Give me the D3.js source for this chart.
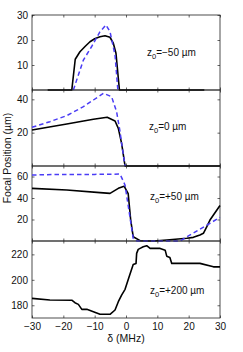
<!DOCTYPE html>
<html><head><meta charset="utf-8">
<script src="https://cdn.jsdelivr.net/npm/d3@7"></script>
<style>
html,body{margin:0;padding:0;background:#fff;}
svg{display:block;font-family:"Liberation Sans",Arial,Helvetica,sans-serif;}
</style></head><body>
<svg id="chart" width="243" height="352"></svg>
<script>
// x values (δ, MHz) and focal positions (µm)
const xTicks = [-30, -20, -10, 0, 10, 20, 30];

// Panel 1: z0 = -50 µm
const p1BlackX = [-25, -17.3, -16.2, -14.7, -13, -11.5, -10, -8.3, -6.7, -5.1, -4.05, -3.2, -2.1, 25];
const p1BlackY = [0, 0, 12.3, 15.3, 17.5, 19.3, 20.5, 21.3, 21.7, 21.1, 18.7, 14.7, 0, 0];
const p1BlueX = [-16.8, -13.6, -11, -8.3, -6.4, -5.1, -3.5, -2.6];
const p1BlueY = [0, 12, 17.3, 23.3, 26, 23.3, 14, 0];

// Panel 2: z0 = 0 µm
const p2BlackX = [-30, -24, -18.9, -14, -10.4, -6, -3.5, -2.45, -1.4, -0.3, 30];
const p2BlackY = [21.6, 23.5, 25.2, 26.8, 28, 29.2, 27, 22.6, 13.6, 0, 0];
const p2BlueX = [-30, -24.3, -18.9, -13.6, -10.4, -7.2, -4.6, -3, -1.9, -1.4, -0.3];
const p2BlueY = [23.2, 26.6, 30.2, 35.6, 39.6, 43.6, 41.6, 32.6, 20.6, 13.6, 0];

// Panel 3: z0 = +50 µm
const p3BlackX = [-30, -18.9, -8.3, -5.1, -2.45, -0.6, 0.7, 1.5, 2.3, 4.5, 9, 13, 19.4, 21.5, 23.6, 24.7, 25.8, 26.8, 27.9, 30];
const p3BlackY = [49, 47.4, 45, 44.3, 49, 51, 44, 19.5, 4, 0.3, 0, 1, 2.5, 3.4, 5.6, 7.2, 13.3, 19.5, 24.2, 33];
const p3BlueX = [-30, -20, -10, -1.9, -0.3, 2.3, 3.5, 17.2, 30];
const p3BlueY = [61.4, 62, 62, 62.3, 52, 2.5, 0, 0, 22];

// Panel 4: z0 = +200 µm
const p4BlackX = [-30, -24.3, -17.3, -16.3, -15.2, -14.1, -12.5, -10.4, -8.3, -5.1, -3.5, -2.45, -1.4, -0.3, 1, 2.3, 3.2, 3.4, 3.9, 4.5, 5.5, 6.6, 7.7, 10.9, 12.5, 13, 14, 14.6, 23.6, 27.9, 30];
const p4BlackY = [185.4, 184.1, 184, 182, 180.7, 176.8, 176.8, 175, 172.9, 172.9, 176.3, 182.8, 188, 192.5, 202.4, 212, 212.9, 220.8, 223.9, 224.7, 226, 226.8, 224.7, 224.7, 223.3, 218.6, 217.6, 212.9, 212.9, 210.2, 210.2];

const yDomains = [[0, 30], [0, 45.6], [0, 69.8], [170, 230.5]];
const yTicks = [[10, 20, 30], [20, 40], [20, 40, 60], [180, 200, 220]];
const labels = [["z", "0", "=−50 µm"], ["z", "0", "=0 µm"], ["z", "0", "=+50 µm"], ["z", "0", "=+200 µm"]];

const blackSeries = [[p1BlackX, p1BlackY], [p2BlackX, p2BlackY], [p3BlackX, p3BlackY], [p4BlackX, p4BlackY]];
const blueSeries = [[p1BlueX, p1BlueY], [p2BlueX, p2BlueY], [p3BlueX, p3BlueY], null];

const svg = d3.select("#chart");
const left = 32, right = 220;
const tops = [15, 90, 166, 241, 318];
const labelPos = [[147, 56], [149, 130], [150, 199.5], [150, 294]];

const x = d3.scaleLinear().domain([-30, 30]).range([left, right]);

for (let i = 0; i < 4; i++) {
  const y = d3.scaleLinear().domain(yDomains[i]).range([tops[i + 1], tops[i]]);
  const g = svg.append("g");
  const tk = 2.5;
  // inside ticks, all four sides
  const axStyle = sel => {
    sel.select(".domain").remove();
    sel.selectAll("line").attr("stroke", "#222").attr("stroke-width", 0.7);
    sel.selectAll("text").attr("fill", "#111").style("font-size", "10px");
  };
  g.append("g").attr("transform", `translate(0,${tops[i + 1]})`)
    .call(d3.axisBottom(x).tickValues(xTicks).tickSize(-tk).tickPadding(5)
      .tickFormat(i === 3 ? (d => d < 0 ? "−" + Math.abs(d) : d) : () => ""))
    .call(axStyle);
  g.append("g").attr("transform", `translate(0,${tops[i]})`)
    .call(d3.axisTop(x).tickValues(xTicks).tickSize(-tk).tickFormat(() => ""))
    .call(axStyle);
  g.append("g").attr("transform", `translate(${left},0)`)
    .call(d3.axisLeft(y).tickValues(yTicks[i]).tickSize(-tk).tickPadding(4))
    .call(axStyle);
  g.append("g").attr("transform", `translate(${right},0)`)
    .call(d3.axisRight(y).tickValues(yTicks[i]).tickSize(-tk).tickFormat(() => ""))
    .call(axStyle);
  // frame
  g.append("rect").attr("x", left).attr("y", tops[i]).attr("width", right - left)
    .attr("height", tops[i + 1] - tops[i]).attr("fill", "none")
    .attr("stroke", "#222").attr("stroke-width", 0.8);

  const line = d3.line().x(d => x(d[0])).y(d => y(d[1]));
  const b = blueSeries[i];
  const k = blackSeries[i];
  g.append("path").datum(k[0].map((v, j) => [v, k[1][j]]))
    .attr("d", line).attr("fill", "none").attr("stroke", "#000")
    .attr("stroke-width", 1.6).attr("stroke-linejoin", "round");
  if (b) {
    g.append("path").datum(b[0].map((v, j) => [v, b[1][j]]))
      .attr("d", line).attr("fill", "none").attr("stroke", "#4a3cf5")
      .attr("stroke-width", 1.5).attr("stroke-dasharray", "4.5,3");
  }
  const t = g.append("text").attr("x", labelPos[i][0]).attr("y", labelPos[i][1])
    .style("font-size", "10px").attr("fill", "#111");
  t.append("tspan").text(labels[i][0]);
  t.append("tspan").attr("dy", 3).style("font-size", "7.5px").text(labels[i][1]);
  t.append("tspan").attr("dy", -3).text(labels[i][2]);
}

svg.append("text").attr("transform", "translate(11,158) rotate(-90)")
  .attr("text-anchor", "middle").style("font-size", "10.5px").attr("fill", "#111")
  .text("Focal Position (µm)");
svg.append("text").attr("x", 126).attr("y", 342).attr("text-anchor", "middle")
  .style("font-size", "10.5px").attr("fill", "#111").text("δ (MHz)");
</script>
</body></html>
